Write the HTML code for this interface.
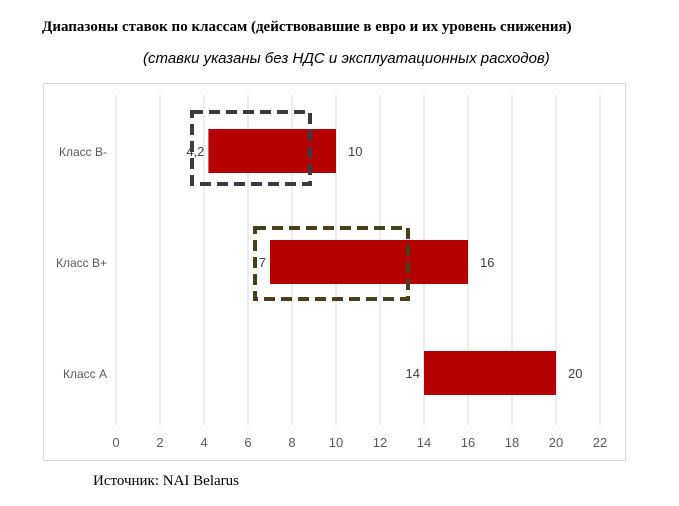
<!DOCTYPE html>
<html><head><meta charset="utf-8"><style>
body{margin:0;background:#fff;width:679px;height:506px;overflow:hidden;font-family:"Liberation Sans",sans-serif}
.t{position:absolute;white-space:nowrap}
</style></head><body>
<div class="t" style="left:42px;top:19px;font-family:'Liberation Serif',serif;font-weight:bold;font-size:15px;color:#000">Диапазоны ставок по классам (действовавшие в евро и их уровень снижения)</div>
<div class="t" style="left:143px;top:50px;font-style:italic;font-size:15px;color:#000">(ставки указаны без НДС и эксплуатационных расходов)</div>
<svg id="c" width="679" height="506" style="position:absolute;left:0;top:0">
<rect x="43.5" y="83.5" width="582" height="377" fill="none" stroke="#d9d9d9"/>
</svg>
<div class="t" style="left:93px;top:473px;font-family:'Liberation Serif',serif;font-size:15px;color:#000">Источник: NAI Belarus</div>
<script>
const categories=["Класс B-","Класс B+","Класс A"];
const startValues=[4.2,7,14];
const endValues=[10,16,20];
const startLabels=["4,2","7","14"];
const endLabels=["10","16","20"];
const ticks=[0,2,4,6,8,10,12,14,16,18,20,22];
const svg=document.getElementById('c');
const NS='http://www.w3.org/2000/svg';
const x=v=>116+v*22;
const y=i=>151+i*111;
function mk(t,a){const e=document.createElementNS(NS,t);for(const k in a)e.setAttribute(k,a[k]);svg.appendChild(e);return e;}
ticks.forEach(v=>{
 const g=mk('line',{x1:x(v),x2:x(v),y1:95,y2:425,stroke:'#d9d9d9','stroke-width':1});
 
 
 const t=mk('text',{x:x(v),y:447,'text-anchor':'middle','font-size':13,fill:'#595959'});
 t.textContent=v;
 
 
});
categories.forEach((c,i)=>{
 const t=mk('text',{x:107,y:y(i)+5,'text-anchor':'end','font-size':12,fill:'#595959'});
 t.textContent=c;
 
 
 const b=mk('rect',{x:x(startValues[i]),y:y(i)-22,width:x(endValues[i])-x(startValues[i]),height:44,fill:'#b50000'});
 
 
 const s=mk('text',{x:x(startValues[i])-4,y:y(i)+5,'text-anchor':'end','font-size':13,fill:'#404040'});
 s.textContent=startLabels[i];
 
 
 const e=mk('text',{x:x(endValues[i])+12,y:y(i)+5,'font-size':13,fill:'#404040'});
 e.textContent=endLabels[i];
 
 
});
const b1=mk('rect',{x:192,y:112,width:118,height:72,fill:'none',stroke:'#3a3a42','stroke-width':4,'stroke-dasharray':'11 6'});


const b2=mk('rect',{x:255,y:228,width:153,height:71,fill:'none',stroke:'#4a3f1c','stroke-width':4,'stroke-dasharray':'11 6'});


</script>
</body></html>
